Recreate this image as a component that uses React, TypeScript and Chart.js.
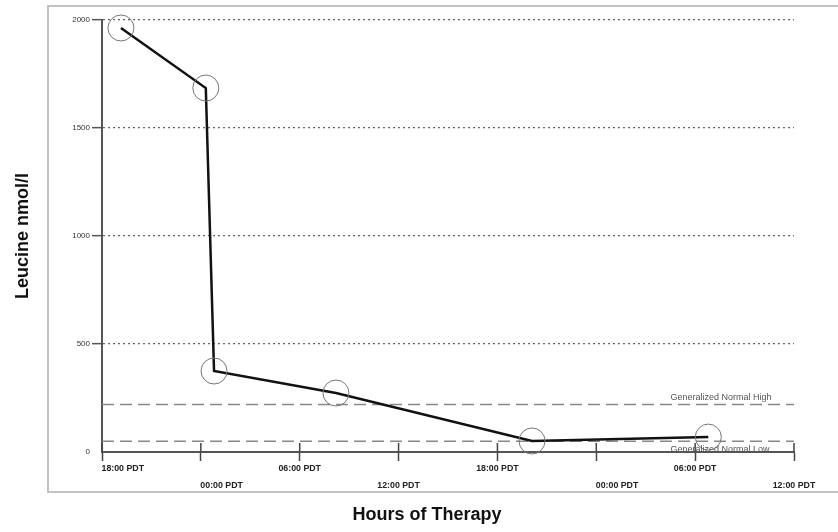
import { useEffect, useRef } from "react";
import { Chart, registerables } from "chart.js";

Chart.register(...registerables);

// ---- data ----
const hoursOfTherapy = [1.15, 6.3, 6.8, 14.2, 26.1, 36.8];
const leucineValues = [1963, 1685, 375, 273, 51, 69];
const xTickHours = [0, 6, 12, 18, 24, 30, 36, 42];
const xTickLabels = [
  "18:00 PDT",
  "00:00 PDT",
  "06:00 PDT",
  "12:00 PDT",
  "18:00 PDT",
  "00:00 PDT",
  "06:00 PDT",
  "12:00 PDT",
];
const yTickValues = [0, 500, 1000, 1500, 2000];
const normalHighValue = 220;
const normalLowValue = 50;
const normalHighLabel = "Generalized Normal High";
const normalLowLabel = "Generalized Normal Low";
const refLabelHour = 34.5;
const xTitle = "Hours of Therapy";
const yTitle = "Leucine nmol/l";

// label styling (which labels are start-aligned at their tick)
const startAlignedTicks = [true, true, false, false, false, true, false, false];
const PAD = "                 ";

const FONT = "'Liberation Sans', Arial, sans-serif";

const decorPlugin = {
  id: "decor",
  beforeDraw(chart: any) {
    const ctx = chart.ctx;
    ctx.save();
    ctx.fillStyle = "#ffffff";
    ctx.fillRect(0, 0, chart.width, chart.height);
    ctx.strokeStyle = "#c2c2c2";
    ctx.lineWidth = 2;
    ctx.strokeRect(48, 6, 820, 486);
    ctx.restore();
  },
  afterDraw(chart: any) {
    const ctx = chart.ctx;
    const xs = chart.scales.x;
    const ys = chart.scales.y;
    ctx.save();
    // upper halves of x tick marks
    ctx.strokeStyle = "#444";
    ctx.lineWidth = 1.5;
    ctx.beginPath();
    for (const h of xTickHours) {
      const px = xs.getPixelForValue(h);
      ctx.moveTo(px, ys.bottom - 9);
      ctx.lineTo(px, ys.bottom);
    }
    ctx.stroke();
    // reference line labels
    ctx.fillStyle = "#555";
    ctx.font = `9px ${FONT}`;
    ctx.textAlign = "left";
    ctx.textBaseline = "middle";
    const lx = xs.getPixelForValue(refLabelHour);
    ctx.fillText(normalHighLabel, lx, ys.getPixelForValue(normalHighValue) - 7);
    ctx.fillText(normalLowLabel, lx, ys.getPixelForValue(normalLowValue) + 8);
    // x title
    ctx.fillStyle = "#111";
    ctx.font = `bold 18px ${FONT}`;
    ctx.textAlign = "center";
    ctx.fillText(xTitle, 427, 515);
    ctx.restore();
  },
};

export default function App() {
  const ref = useRef<HTMLCanvasElement | null>(null);

  useEffect(() => {
    if (!ref.current) return;
    const mainData = hoursOfTherapy.map((h, i) => ({ x: h, y: leucineValues[i] }));
    const first = xTickHours[0];
    const last = xTickHours[xTickHours.length - 1];
    const chart = new Chart(ref.current, {
      type: "line",
      data: {
        datasets: [
          {
            data: mainData,
            borderColor: "#111",
            borderWidth: 2.5,
            tension: 0,
            pointRadius: 13,
            pointBorderColor: "#777",
            pointBorderWidth: 1,
            pointBackgroundColor: "rgba(0,0,0,0)",
            clip: false as any,
          },
          {
            data: [
              { x: first, y: normalHighValue },
              { x: last, y: normalHighValue },
            ],
            borderColor: "#888",
            borderWidth: 1.5,
            borderDash: [12, 6],
            pointRadius: 0,
          },
          {
            data: [
              { x: first, y: normalLowValue },
              { x: last, y: normalLowValue },
            ],
            borderColor: "#888",
            borderWidth: 1.5,
            borderDash: [12, 6],
            pointRadius: 0,
          },
        ],
      },
      options: {
        animation: false,
        responsive: false,
        layout: { padding: { top: 20, right: 44, left: 0, bottom: 0 } },
        plugins: { legend: { display: false }, tooltip: { enabled: false } },
        scales: {
          x: {
            type: "linear",
            min: first,
            max: last,
            afterBuildTicks: (s: any) => {
              s.ticks = xTickHours.map((v) => ({ value: v }));
            },
            afterFit: (s: any) => {
              s.height = 80;
            },
            ticks: {
              autoSkip: false,
              maxRotation: 0,
              minRotation: 0,
              padding: -1,
              color: "#222",
              font: { family: FONT, size: 8.8, weight: "bold", lineHeight: 17 / 8.8 },
              callback: (v: any) => {
                const i = xTickHours.indexOf(Number(v));
                if (i < 0) return "";
                const txt = (startAlignedTicks[i] ? PAD : "") + xTickLabels[i];
                return i % 2 === 0 ? [txt] : ["", txt];
              },
            },
            grid: {
              drawOnChartArea: false,
              tickLength: 9,
              tickWidth: 1.5,
              tickColor: "#444",
            },
            border: { color: "#555", width: 2 },
          },
          y: {
            min: 0,
            max: 2000,
            afterBuildTicks: (s: any) => {
              s.ticks = yTickValues.map((v) => ({ value: v }));
            },
            afterFit: (s: any) => {
              s.width = 102;
            },
            ticks: {
              color: "#333",
              padding: 2,
              font: { family: FONT, size: 8 },
              callback: (v: any) => String(v),
            },
            grid: {
              color: (c: any) => (c.tick && c.tick.value === 0 ? "rgba(0,0,0,0)" : "#666"),
              lineWidth: 1.3,
              tickColor: (c: any) => (c.tick && c.tick.value === 0 ? "rgba(0,0,0,0)" : "#555"),
              tickLength: 10,
              tickWidth: 1.5,
              tickBorderDash: [],
            },
            border: { color: "#555", width: 2, dash: [2, 3] },
            title: {
              display: true,
              text: yTitle,
              color: "#111",
              font: { family: FONT, size: 18, weight: "bold" },
              padding: { top: 12, bottom: 0 },
            },
          },
        },
      } as any,
      plugins: [decorPlugin],
    });
    return () => chart.destroy();
  }, []);

  return (
    <div style={{ position: "fixed", left: 0, top: 0, width: 838, height: 532 }}>
      <canvas ref={ref} width={838} height={532} style={{ display: "block" }} />
    </div>
  );
}
